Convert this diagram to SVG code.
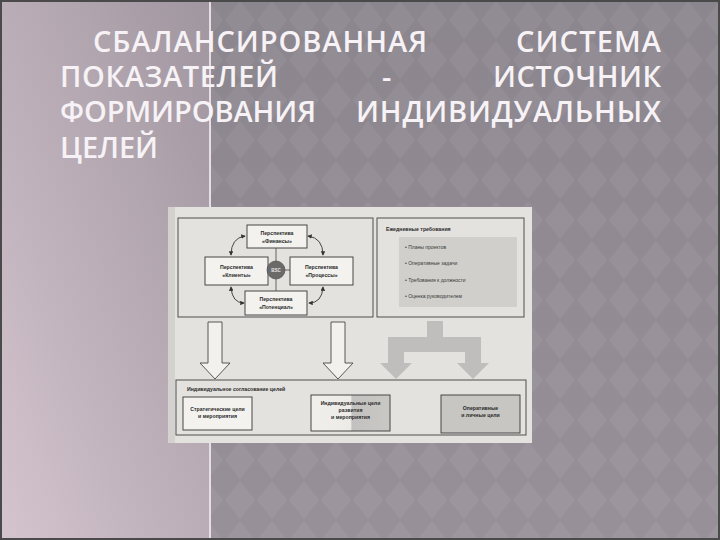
<svg xmlns="http://www.w3.org/2000/svg" width="720" height="540" viewBox="0 0 720 540">
<defs>
<linearGradient id="lp" x1="1" y1="0" x2="0" y2="1">
<stop offset="0" stop-color="#a0969f"/>
<stop offset="1" stop-color="#d4c4ce"/>
</linearGradient>
<linearGradient id="rp" x1="0" y1="0" x2="0" y2="1">
<stop offset="0" stop-color="#8b858d"/>
<stop offset="1" stop-color="#989099"/>
</linearGradient>
<pattern id="dia" width="32" height="40" patternUnits="userSpaceOnUse">
<polygon points="16,1 31,20 16,39 1,20" fill="#ffffff" fill-opacity="0.05"/>
</pattern>
<linearGradient id="ind" x1="0" y1="0" x2="1" y2="0">
<stop offset="0" stop-color="#f0efec"/>
<stop offset="0.5" stop-color="#ecebe8"/>
<stop offset="0.52" stop-color="#c2c1bf"/>
<stop offset="1" stop-color="#c9c8c5"/>
</linearGradient>
<marker id="ah" viewBox="0 0 6 6" refX="5" refY="3" markerWidth="5" markerHeight="5" orient="auto-start-reverse">
<path d="M0,0 L6,3 L0,6 Z" fill="#333"/>
</marker>
<style>
.ttl{font-family:"Open Sans","DejaVu Sans",sans-serif;font-size:29px;font-weight:600;fill:#f6f2f6}
.bx{fill:#f3f2ef;stroke:#474747;stroke-width:1}
.fr{fill:none;stroke:#4f4f4f;stroke-width:1}
.t{font-family:"Liberation Sans",Arial,sans-serif;font-size:5.2px;font-weight:bold;fill:#2a2a2a;text-anchor:middle}
.tl{font-family:"Liberation Sans",Arial,sans-serif;font-size:5px;fill:#3a3a3a}
.cv{fill:none;stroke:#333;stroke-width:0.9;marker-start:url(#ah);marker-end:url(#ah)}
.ha{fill:#f2f1ee;stroke:#474747;stroke-width:0.9}
</style>
</defs>
<rect width="720" height="540" fill="url(#rp)"/>
<rect width="720" height="540" fill="url(#dia)"/>
<rect width="210" height="540" fill="url(#lp)"/>
<rect x="209" y="0" width="2" height="540" fill="#e6dee4"/>
<rect x="1" y="1" width="718" height="538" fill="none" stroke="#4a4a4a" stroke-width="2"/>
<g id="title">
<text class="ttl" x="93" y="52" textLength="334" lengthAdjust="spacing">СБАЛАНСИРОВАННАЯ</text>
<text class="ttl" x="516" y="52" textLength="145" lengthAdjust="spacing">СИСТЕМА</text>
<text class="ttl" x="60" y="87" textLength="218" lengthAdjust="spacing">ПОКАЗАТЕЛЕЙ</text>
<text class="ttl" x="382" y="87">-</text>
<text class="ttl" x="493" y="87" textLength="168" lengthAdjust="spacing">ИСТОЧНИК</text>
<text class="ttl" x="60" y="122" textLength="256" lengthAdjust="spacing">ФОРМИРОВАНИЯ</text>
<text class="ttl" x="356" y="122" textLength="305" lengthAdjust="spacing">ИНДИВИДУАЛЬНЫХ</text>
<text class="ttl" x="60" y="158" textLength="98" lengthAdjust="spacing">ЦЕЛЕЙ</text>
</g>
<g id="scan">
<rect x="168" y="207" width="364" height="236" fill="#e3e2df"/>
<rect x="168" y="207" width="7" height="236" fill="#d3d2cf"/>
<rect x="178" y="218" width="195" height="99" class="fr"/>
<rect x="377" y="218" width="147" height="99" class="fr"/>
<rect x="176" y="380" width="350" height="55" class="fr" stroke-width="1.3"/>
</g>
<g id="connectors">
<line x1="276" y1="248" x2="276" y2="291" stroke="#444" stroke-width="0.8"/>
<line x1="268" y1="270" x2="290" y2="270" stroke="#444" stroke-width="0.8"/>
<path class="cv" d="M245,236 Q231,238 231,255"/>
<path class="cv" d="M308,236 Q323,238 323,255"/>
<path class="cv" d="M231,287 Q232,303 244,303"/>
<path class="cv" d="M323,287 Q322,303 309,303"/>
<polygon class="ha" points="208,322 222,322 222,363 230,363 215,379 200,363 208,363"/>
<polygon class="ha" points="331,322 345,322 345,363 353,363 338,379 323,363 331,363"/>
<polygon fill="#bfbebc" points="427,321 443,321 443,337 481,337 481,363 489,363 473,379 457,363 465,363 465,352 404,352 404,363 412,363 396,379 380,363 388,363 388,337 427,337"/>
</g>
<g id="fin">
<rect class="bx" x="247" y="225" width="60" height="23"/>
<text class="t" x="277" y="235">Перспектива</text>
<text class="t" x="277" y="243">«Финансы»</text>
</g>
<g id="cli">
<rect class="bx" x="205" y="257" width="63" height="28"/>
<text class="t" x="236.5" y="269">Перспектива</text>
<text class="t" x="236.5" y="277">«Клиенты»</text>
</g>
<g id="bsc">
<circle cx="276" cy="270" r="9" fill="#6b6a69" stroke="#444" stroke-width="0.6"/>
<text class="t" x="276" y="272" style="fill:#e6e6e6;font-size:4.5px">BSC</text>
</g>
<g id="pro">
<rect class="bx" x="290" y="257" width="63" height="28"/>
<text class="t" x="321.5" y="269">Перспектива</text>
<text class="t" x="321.5" y="277">«Процессы»</text>
</g>
<g id="pot">
<rect class="bx" x="245" y="291" width="62" height="24"/>
<text class="t" x="276" y="301">Перспектива</text>
<text class="t" x="276" y="309">«Потенциал»</text>
</g>
<g id="daily">
<text class="t" x="386" y="231" style="text-anchor:start">Ежедневные требования</text>
<rect x="399" y="237" width="118" height="70" fill="#d0cfcc"/>
<text class="tl" x="405" y="249">•  Планы проектов</text>
<text class="tl" x="405" y="265">•  Оперативные задачи</text>
<text class="tl" x="405" y="282">•  Требования к должности</text>
<text class="tl" x="405" y="298">•  Оценка руководителем</text>
</g>
<g id="agree">
<text class="t" x="187" y="391" style="text-anchor:start">Индивидуальное согласование целей</text>
</g>
<g id="strat">
<rect class="bx" x="183" y="397" width="69" height="33"/>
<text class="t" x="217.5" y="411">Стратегические цели</text>
<text class="t" x="217.5" y="418">и мероприятия</text>
</g>
<g id="indiv">
<rect class="bx" x="311" y="395" width="79" height="36" style="fill:url(#ind)"/>
<text class="t" x="350.5" y="405">Индивидуальные цели</text>
<text class="t" x="350.5" y="412">развития</text>
<text class="t" x="350.5" y="419">и мероприятия</text>
</g>
<g id="oper">
<rect class="bx" x="441" y="395" width="79" height="38" style="fill:#c7c6c3"/>
<text class="t" x="480.5" y="410">Оперативные</text>
<text class="t" x="480.5" y="417">и личные цели</text>
</g>
</svg>
